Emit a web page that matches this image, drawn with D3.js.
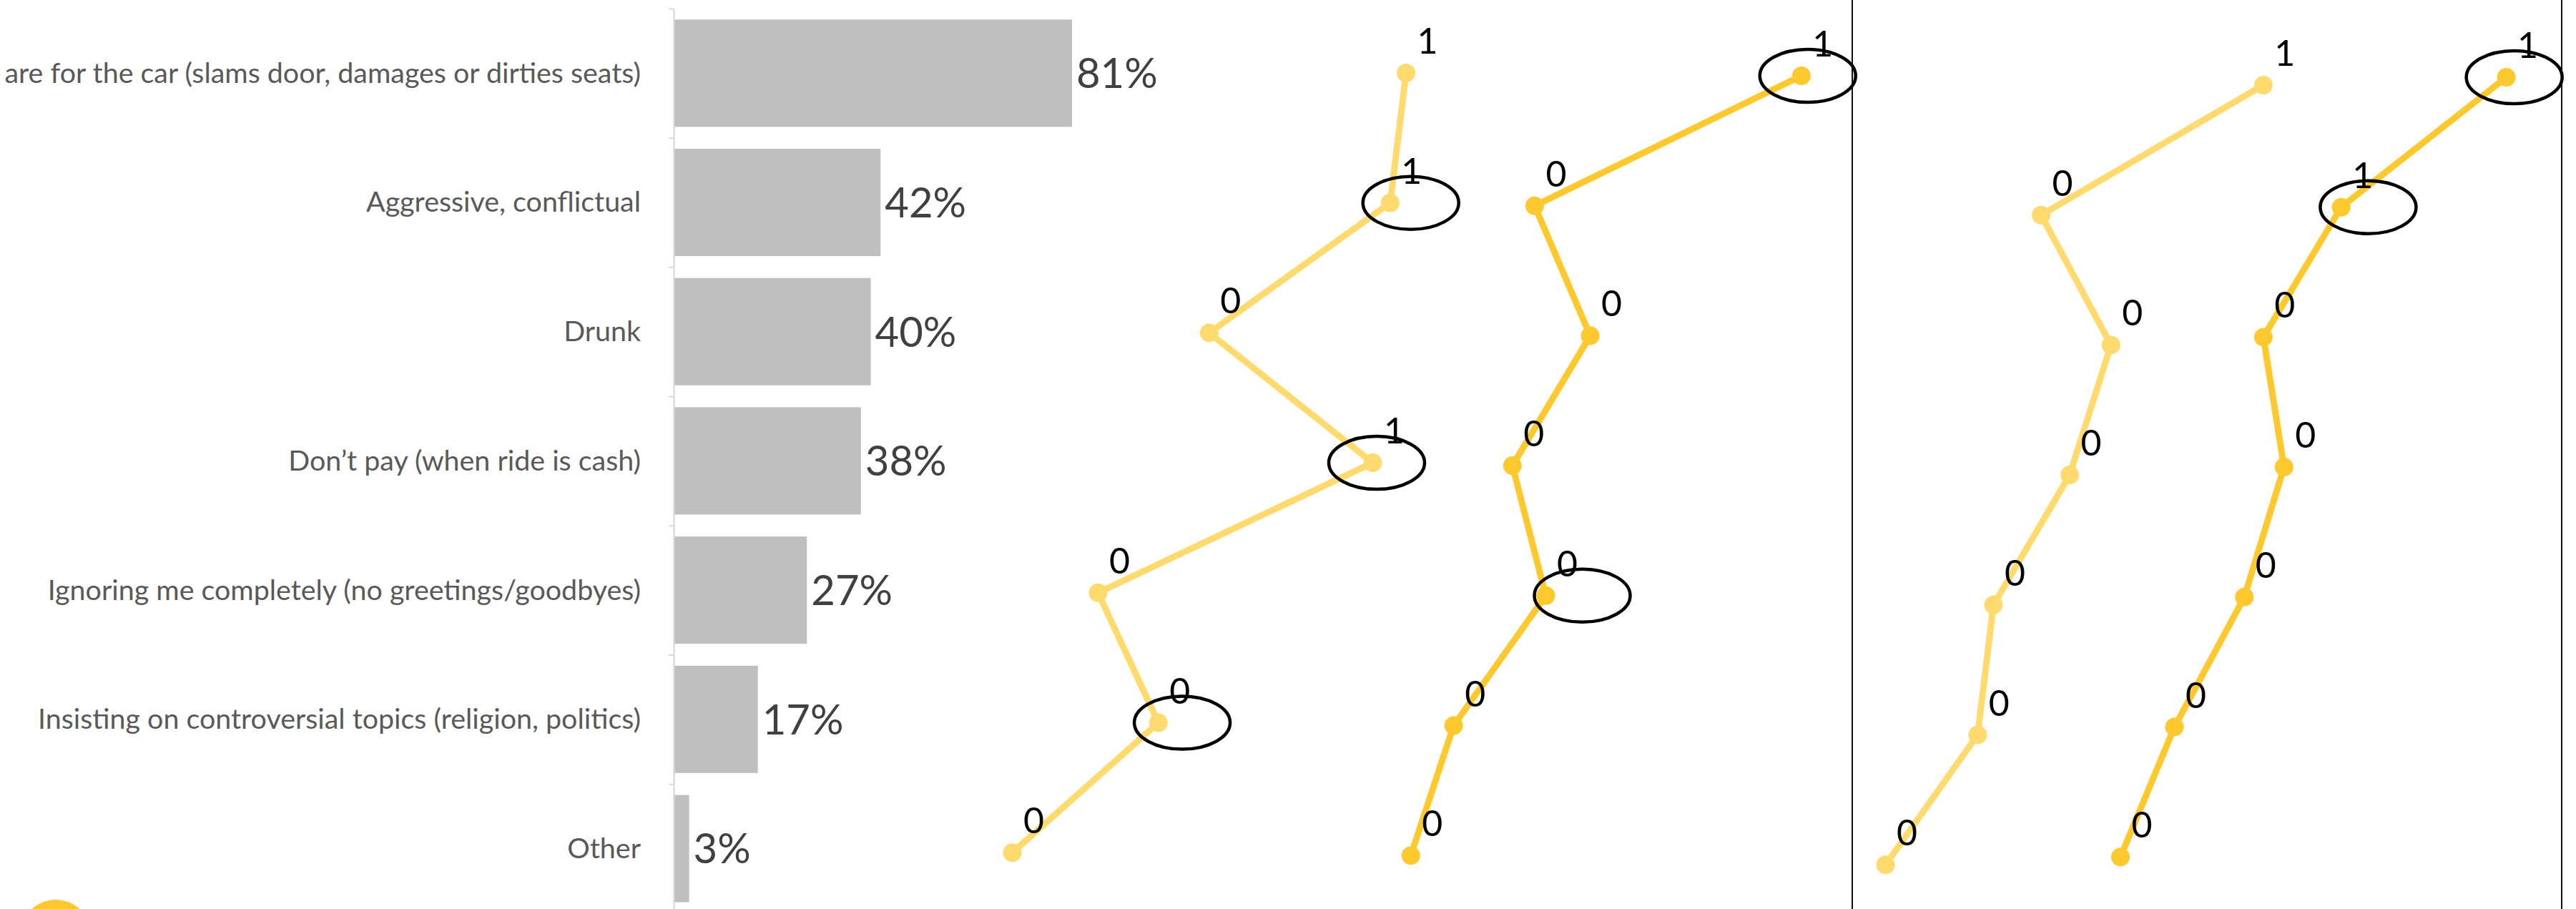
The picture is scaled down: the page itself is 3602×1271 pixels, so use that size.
<!DOCTYPE html>
<html>
<head>
<meta charset="utf-8">
<script src="https://cdn.jsdelivr.net/npm/d3@7/dist/d3.min.js"></script>
<style>
  html, body { margin: 0; padding: 0; background: #ffffff; overflow: hidden; }
  svg { display: block; }
  text { font-family: Lato, "Open Sans", "Liberation Sans", sans-serif; }
</style>
</head>
<body>
<script>
// ---------------- DATA ----------------
const categories = [
  "are for the car (slams door, damages or dirties seats)",
  "Aggressive, conflictual",
  "Drunk",
  "Don\u2019t pay (when ride is cash)",
  "Ignoring me completely (no greetings/goodbyes)",
  "Insisting on controversial topics (religion, politics)",
  "Other"
];
const shares = [81, 42, 40, 38, 27, 17, 3];

// line-panel series (horizontal position on a 0-100 score scale, one point per category row)
const seriesA = [26.4, 25.4, 14.0, 24.3, 7.0, 10.8, 1.6];
const seriesB = [51.3, 34.5, 38.0, 33.1, 35.2, 29.4, 26.7];
const seriesC = [80.4, 66.4, 70.8, 68.2, 63.4, 62.4, 56.6];
const seriesD = [95.7, 85.3, 80.4, 81.7, 79.2, 74.8, 71.4];
const labelsA = ["1", "1", "0", "1", "0", "0", "0"];
const labelsB = ["1", "0", "0", "0", "0", "0", "0"];
const labelsC = ["1", "0", "0", "0", "0", "0", "0"];
const labelsD = ["1", "1", "0", "0", "0", "0", "0"];

// hand-drawn circles: which series / which point, and centre on the score scale
const circledSeries = [0, 0, 0, 1, 1, 3, 3];
const circledPoint  = [1, 3, 5, 0, 4, 0, 1];
const circledX      = [26.7, 24.55, 12.3, 51.7, 37.5, 96.2, 87.0];

// ---------------- LAYOUT / STYLE ----------------
const W = 3602, H = 1271;
const lightYellow = "#FFDA6E";
const darkYellow = "#FDC92F";
const seriesStyle = [
  { values: seriesA, labels: labelsA, color: lightYellow, top: 102 },
  { values: seriesB, labels: labelsB, color: darkYellow,  top: 106 },
  { values: seriesC, labels: labelsC, color: lightYellow, top: 119 },
  { values: seriesD, labels: labelsD, color: darkYellow,  top: 108 }
];

const svg = d3.select("body").append("svg")
  .attr("width", W).attr("height", H)
  .attr("viewBox", `0 0 ${W} ${H}`);

// ---------------- BAR CHART ----------------
const barTop = 12, barBottom = 12 + 7 * 180.7;
const y = d3.scaleBand().domain(categories)
  .range([barTop, barBottom])
  .paddingInner(0.17).paddingOuter(0.085);
const x = d3.scaleLinear().domain([0, 100]).range([943, 943 + 686.4]);

svg.append("g").selectAll("rect")
  .data(shares)
  .join("rect")
  .attr("x", x(0))
  .attr("y", (d, i) => y(categories[i]))
  .attr("width", d => x(d) - x(0))
  .attr("height", y.bandwidth())
  .attr("fill", "#BFBFBF");

// axis with ticks at category boundaries
const yBound = d3.scaleLinear().domain([0, categories.length]).range([barTop, barBottom]);
const axisG = svg.append("g")
  .attr("transform", `translate(${942},0)`)
  .call(d3.axisLeft(yBound).tickValues(d3.range(0, categories.length + 1))
    .tickSize(7).tickSizeOuter(0).tickFormat(""));
axisG.select(".domain").attr("stroke", "#D9D9D9").attr("stroke-width", 2.3);
axisG.selectAll(".tick line").attr("stroke", "#D9D9D9").attr("stroke-width", 2);

// category labels
svg.append("g").selectAll("text")
  .data(categories)
  .join("text")
  .attr("x", 896)
  .attr("y", d => y(d) + y.bandwidth() / 2)
  .attr("dy", "0.34em")
  .attr("text-anchor", "end")
  .attr("font-size", 39.4)
  .attr("fill", "#595959")
  .text(d => d);

// value labels
svg.append("g").selectAll("text")
  .data(shares)
  .join("text")
  .attr("x", d => x(d) + 6)
  .attr("y", (d, i) => y(categories[i]) + y.bandwidth() / 2)
  .attr("dy", "0.36em")
  .attr("font-size", 58)
  .attr("fill", "#404040")
  .text(d => d + "%");

// yellow round badge at the bottom-left corner
svg.append("circle")
  .attr("cx", 78).attr("cy", 1308).attr("r", 50)
  .attr("fill", darkYellow);

// ---------------- LINE PANELS ----------------
const sx = d3.scaleLinear().domain([0, 100]).range([1380, 3600]);
const rowStep = 181.7;

// panel separators
svg.append("g").selectAll("line")
  .data([2590, 3582])
  .join("line")
  .attr("x1", d => d).attr("x2", d => d)
  .attr("y1", 0).attr("y2", H)
  .attr("stroke", "#111").attr("stroke-width", 2);

const lineLayer = svg.append("g");
const pointYs = [];
seriesStyle.forEach((s, si) => {
  const sy = d3.scaleLinear().domain([0, categories.length - 1])
    .range([s.top, s.top + rowStep * (categories.length - 1)]);
  pointYs.push(sy);
  const g = lineLayer.append("g");
  const line = d3.line().x(d => sx(d)).y((d, i) => sy(i));
  g.append("path")
    .attr("d", line(s.values))
    .attr("fill", "none")
    .attr("stroke", s.color)
    .attr("stroke-width", 9)
    .attr("stroke-linejoin", "round");
  g.selectAll("circle")
    .data(s.values)
    .join("circle")
    .attr("cx", d => sx(d))
    .attr("cy", (d, i) => sy(i))
    .attr("r", 13)
    .attr("fill", s.color);
  g.selectAll("text")
    .data(s.labels)
    .join("text")
    .attr("x", (d, i) => sx(s.values[i]) + 30)
    .attr("y", (d, i) => sy(i) - 27)
    .attr("text-anchor", "middle")
    .attr("font-size", 50)
    .attr("fill", "#000")
    .text(d => d);
});

// hand-drawn ellipses
svg.append("g").selectAll("ellipse")
  .data(circledX)
  .join("ellipse")
  .attr("cx", d => sx(d))
  .attr("cy", (d, i) => pointYs[circledSeries[i]](circledPoint[i]))
  .attr("rx", 67)
  .attr("ry", 37)
  .attr("fill", "none")
  .attr("stroke", "#000")
  .attr("stroke-width", 4.5);
</script>
</body>
</html>
